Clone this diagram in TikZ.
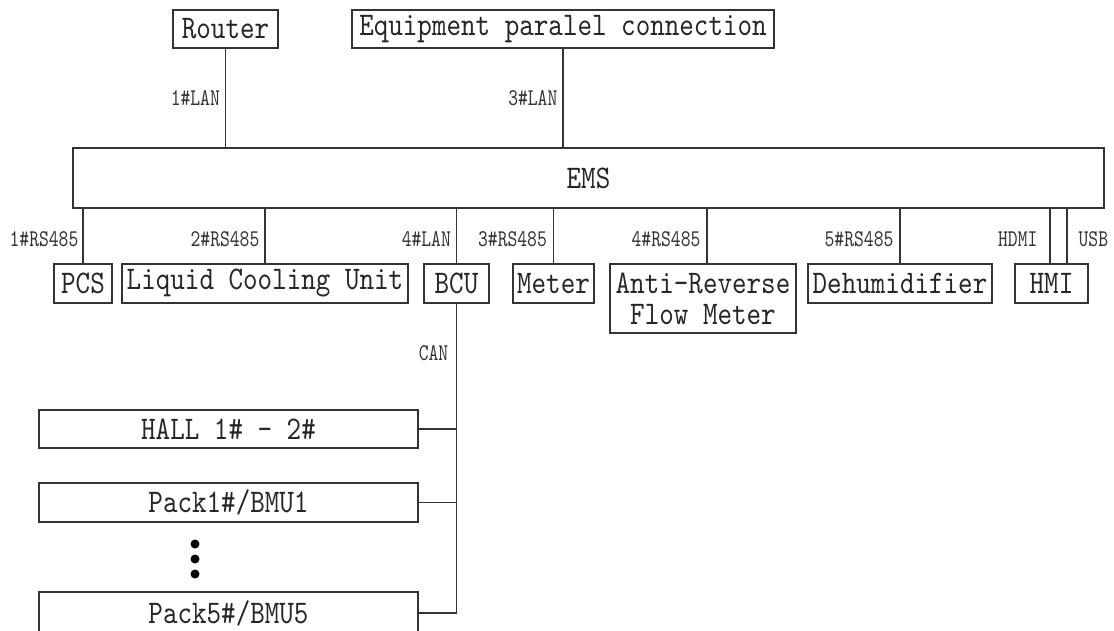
\documentclass[tikz,border=0pt]{standalone}
\usepackage{fontspec}
\newfontfamily\boxfont[FakeStretch=0.84]{lmmono10-regular.otf}
\newfontfamily\lblfont[FakeStretch=0.78]{lmmono10-regular.otf}
\begin{document}
\begin{tikzpicture}[x=1pt,y=-1pt,
  box/.style={draw=black!80, line width=1.2pt, inner sep=0pt, align=center,
    font=\boxfont\fontsize{33}{31}\selectfont, text=black!85},
  lbl/.style={inner sep=0pt, font=\lblfont\fontsize{24}{26}\selectfont, text=black!80},
  wire/.style={draw=black!80, line width=1.2pt},
  bigdot/.style={circle, fill=black, inner sep=0pt, minimum size=9pt}]
\useasboundingbox (0,0) rectangle (1114,631);
% top
\node[box, minimum width=105, minimum height=38] (router) at (225.5,29) {Router};
\node[box, minimum width=422, minimum height=38] (equip) at (563,29) {Equipment paralel connection};
\node[box, minimum width=1031, minimum height=60] (ems) at (588.5,178) {EMS};
% devices
\node[box, minimum width=58, minimum height=39] (pcs) at (83,283.5) {PCS};
\node[box, minimum width=286, minimum height=39] (lcu) at (265,283.5) {Liquid Cooling Unit};
\node[box, minimum width=65, minimum height=39] (bcu) at (456.5,283.5) {BCU};
\node[box, minimum width=81, minimum height=39] (meter) at (553.5,283.5) {Meter};
\node[box, minimum width=186, minimum height=69] (anti) at (703,298.5) {Anti-Reverse\\Flow Meter};
\node[box, minimum width=184, minimum height=39] (dehum) at (900,283.5) {Dehumidifier};
\node[box, minimum width=73, minimum height=39] (hmi) at (1051.5,283.5) {HMI};
% battery
\node[box, minimum width=379, minimum height=38] (hall) at (228.5,429) {HALL 1\# - 2\#};
\node[box, minimum width=379, minimum height=39] (p1) at (228.5,502.5) {Pack1\#/BMU1};
\node[box, minimum width=379, minimum height=42] (p5) at (228.5,613) {Pack5\#/BMU5};
\node[bigdot] (d1) at (195,544) {};
\node[bigdot] (d2) at (195,559) {};
\node[bigdot] (d3) at (195,574) {};
% top connectors
\draw[wire] (router.south) -- node[lbl, left=5pt] {1\#LAN} (router.south |- ems.north);
\draw[wire] (equip.south) -- node[lbl, left=5pt] {3\#LAN} (equip.south |- ems.north);
% bottom connectors
\draw[wire] (pcs.north) -- node[lbl, left=4pt, pos=0.45] {1\#RS485} (pcs.north |- ems.south);
\draw[wire] (lcu.north) -- node[lbl, left=5pt, pos=0.45] {2\#RS485} (lcu.north |- ems.south);
\draw[wire] (bcu.north) -- node[lbl, left=5pt, pos=0.45] {4\#LAN} (bcu.north |- ems.south);
\draw[wire] (meter.north) -- node[lbl, left=6pt, pos=0.45] {3\#RS485} (meter.north |- ems.south);
\coordinate (an) at ([xshift=4pt]anti.north);
\draw[wire] (an) -- node[lbl, left=6pt, pos=0.45] {4\#RS485} (an |- ems.south);
\draw[wire] (dehum.north) -- node[lbl, left=6pt, pos=0.45] {5\#RS485} (dehum.north |- ems.south);
\coordinate (hd) at ([xshift=-1.5pt]hmi.north);
\coordinate (us) at ([xshift=15.5pt]hmi.north);
\draw[wire] (hd) -- node[lbl, left=12pt, pos=0.45] {HDMI} (hd |- ems.south);
\draw[wire] (us) -- node[lbl, right=11pt, pos=0.45] {USB} (us |- ems.south);
% CAN bus
\draw[wire] (bcu.south) |- (p5.east);
\draw[wire] (hall.east) -- (hall.east -| bcu.south);
\draw[wire] (p1.east) -- (p1.east -| bcu.south);
\node[lbl, anchor=east] (can) at ([xshift=-8pt, yshift=-50pt]bcu.south) {CAN};
\end{tikzpicture}
\end{document}
